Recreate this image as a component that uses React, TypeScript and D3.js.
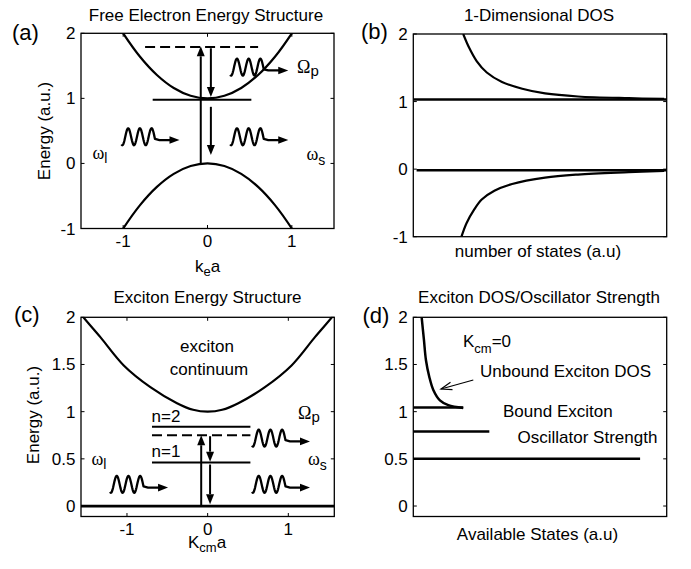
import React from 'react';
import * as d3 from 'd3';

type Pt = [number, number];

// (a) free electron bands, energy vs k_e a
const conductionBand: Pt[] = [[-1.1, 2.21], [-1, 2], [-0.8, 1.64], [-0.6, 1.36], [-0.4, 1.16], [-0.2, 1.04], [0, 1], [0.2, 1.04], [0.4, 1.16], [0.6, 1.36], [0.8, 1.64], [1, 2], [1.1, 2.21]];
const valenceBand: Pt[] = [[-1.1, -1.21], [-1, -1], [-0.8, -0.64], [-0.6, -0.36], [-0.4, -0.16], [-0.2, -0.04], [0, 0], [0.2, -0.04], [0.4, -0.16], [0.6, -0.36], [0.8, -0.64], [1, -1], [1.1, -1.21]];
const levelsA = [
  { e: 1.79, x0: -0.74, x1: 0.6, dashed: true },
  { e: 0.98, x0: -0.65, x1: 0.52, dashed: false },
];
const arrowsA = [
  { x: -0.08, from: 0, to: 1.8 },
  { x: 0.04, from: 1.77, to: 1.02 },
  { x: 0.04, from: 0.87, to: 0.13 },
];
const wavesA: Pt[] = [[-1.02, 0.41], [0.27, 0.41], [0.27, 1.48]];

// (b) 1D density of states, x = number of states
const dosUpper: Pt[] = [[0.197, 2.0], [0.22, 1.8], [0.25, 1.6], [0.29, 1.43], [0.35, 1.29], [0.43, 1.19], [0.52, 1.12], [0.65, 1.075], [0.85, 1.05], [0.99, 1.04]];
const dosLower: Pt[] = [[0.19, -1.0], [0.21, -0.8], [0.24, -0.6], [0.27, -0.45], [0.32, -0.32], [0.39, -0.22], [0.52, -0.125], [0.65, -0.08], [0.85, -0.045], [0.99, -0.025]];
const levelsB = [
  { e: 1.03, x0: 0, x1: 1 },
  { e: -0.016, x0: 0.013, x1: 1 },
];

// (c) exciton bands, energy vs K_cm a
const excitonBand: Pt[] = [[-1.62, 2.09], [-1.54, 2.0], [-1.33, 1.79], [-1.04, 1.49], [-0.71, 1.26], [-0.38, 1.09], [-0.18, 1.02], [0, 1.0], [0.18, 1.02], [0.38, 1.09], [0.71, 1.26], [1.04, 1.49], [1.33, 1.79], [1.54, 2.0], [1.62, 2.09]];
const levelsC = [
  { e: 0.84, x0: -0.69, x1: 0.53, dashed: false },
  { e: 0.75, x0: -0.69, x1: 0.53, dashed: true },
  { e: 0.46, x0: -0.69, x1: 0.53, dashed: false },
];
const arrowsC = [
  { x: -0.08, from: 0, to: 0.75 },
  { x: 0.03, from: 0.74, to: 0.47 },
  { x: 0.03, from: 0.44, to: 0.02 },
];
const wavesC: Pt[] = [[-1.21, 0.23], [0.55, 0.23], [0.55, 0.72]];

// (d) exciton DOS / oscillator strength
const unboundDos: Pt[] = [[0.033, 2.0], [0.042, 1.76], [0.05, 1.545], [0.063, 1.37], [0.079, 1.23], [0.105, 1.12], [0.138, 1.07], [0.197, 1.04]];
const boundLevels = [
  { e: 1.045, len: 0.197 },
  { e: 0.79, len: 0.3 },
  { e: 0.5, len: 0.895 },
];

const FONT = 'Liberation Sans, Arial, Helvetica, sans-serif';
const SERIF = 'Liberation Serif, Times New Roman, serif';
const FS = 17;

type Lin = d3.ScaleLinear<number, number>;

function Frame({ id, x, y, xTicks, yTicks }: { id: string; x: Lin; y: Lin; xTicks: number[]; yTicks: number[] }) {
  const [l, r] = x.range();
  const [b, t] = y.range();
  const tl = 3.5;
  return (
    <g>
      <clipPath id={id}>
        <rect x={l} y={t} width={r - l} height={b - t} />
      </clipPath>
      <rect x={l} y={t} width={r - l} height={b - t} fill="none" stroke="#000" strokeWidth={1.3} />
      {yTicks.map(v => (
        <g key={'y' + v}>
          <line x1={l} x2={l + tl} y1={y(v)} y2={y(v)} stroke="#000" />
          <line x1={r} x2={r - tl} y1={y(v)} y2={y(v)} stroke="#000" />
          <text x={l - 5.5} y={y(v) + 6} textAnchor="end" fontSize={FS}>{String(v)}</text>
        </g>
      ))}
      {xTicks.map(v => (
        <g key={'x' + v}>
          <line x1={x(v)} x2={x(v)} y1={b} y2={b - tl} stroke="#000" />
          <line x1={x(v)} x2={x(v)} y1={t} y2={t + tl} stroke="#000" />
          <text x={x(v)} y={b + 18.5} textAnchor="middle" fontSize={FS}>{String(v)}</text>
        </g>
      ))}
    </g>
  );
}

// photon squiggle: three wiggles, a straight tail and a filled head
function Wave({ x0, yc }: { x0: number; yc: number }) {
  const P = 11.7, A = 8.5;
  const pts: Pt[] = [];
  for (let t = 0; t <= 33.7; t += 0.5) pts.push([x0 + t, yc - A * Math.cos((2 * Math.PI * (t - 6.7)) / P)]);
  pts.push([x0 + 38, yc + 3.3], [x0 + 50, yc + 3.3]);
  const d = d3.line()(pts) || '';
  const ty = yc + 3.3;
  return (
    <g>
      <path d={d} fill="none" stroke="#000" strokeWidth={2.3} strokeLinejoin="round" />
      <polygon points={`${x0 + 48},${ty - 3.8} ${x0 + 58},${ty} ${x0 + 48},${ty + 3.8}`} fill="#000" />
    </g>
  );
}

function VArrow({ x, y0, y1 }: { x: number; y0: number; y1: number }) {
  const dir = y1 > y0 ? 1 : -1;
  const hl = 10, hw = 4;
  return (
    <g>
      <line x1={x} x2={x} y1={y0} y2={y1 - dir * hl} stroke="#000" strokeWidth={2} />
      <polygon points={`${x - hw},${y1 - dir * hl} ${x + hw},${y1 - dir * hl} ${x},${y1}`} fill="#000" />
    </g>
  );
}

export default function App() {
  const xa = d3.scaleLinear().domain([-1.5, 1.5]).range([81, 334]);
  const ya = d3.scaleLinear().domain([-1, 2]).range([228.5, 33.3]);
  const xb = d3.scaleLinear().domain([0, 1]).range([413.3, 666.7]);
  const yb = d3.scaleLinear().domain([-1, 2]).range([236.7, 34]);
  const xc = d3.scaleLinear().domain([-1.57, 1.57]).range([81, 334.3]);
  const yc = d3.scaleLinear().domain([-0.111, 2]).range([516.5, 317.3]);
  const xd = d3.scaleLinear().domain([0, 1]).range([413.3, 666.7]);
  const yd = yc;

  const curve = (x: Lin, y: Lin) =>
    d3.line<Pt>().x(d => x(d[0])).y(d => y(d[1])).curve(d3.curveCatmullRom);

  const stroke = { fill: 'none', stroke: '#000' };

  return (
    <svg width={691} height={569} style={{ position: 'absolute', left: 0, top: 0, background: '#fff' }}
      fontFamily={FONT} fill="#000">
      {/* (a) */}
      <text x={206} y={20.7} textAnchor="middle" fontSize={FS}>Free Electron Energy Structure</text>
      <text x={12} y={40} fontSize={22}>(a)</text>
      <Frame id="ca" x={xa} y={ya} xTicks={[-1, 0, 1]} yTicks={[-1, 0, 1, 2]} />
      <g clipPath="url(#ca)">
        <path d={curve(xa, ya)(conductionBand) || ''} {...stroke} strokeWidth={2.2} />
        <path d={curve(xa, ya)(valenceBand) || ''} {...stroke} strokeWidth={2.2} />
      </g>
      {levelsA.map((lv, i) => (
        <line key={i} x1={xa(lv.x0)} x2={xa(lv.x1)} y1={ya(lv.e)} y2={ya(lv.e)} stroke="#000" strokeWidth={2}
          strokeDasharray={lv.dashed ? '10,5' : undefined} />
      ))}
      {arrowsA.map((a, i) => <VArrow key={i} x={xa(a.x)} y0={ya(a.from)} y1={ya(a.to)} />)}
      {wavesA.map((w, i) => <Wave key={i} x0={xa(w[0])} yc={ya(w[1])} />)}
      <text x={92.5} y={158.5} fontFamily={SERIF} fontSize={18}>ω<tspan fontFamily={FONT} fontSize={14} dy={4}>l</tspan></text>
      <text x={306.5} y={159.5} fontFamily={SERIF} fontSize={18}>ω<tspan fontFamily={FONT} fontSize={14} dy={5}>s</tspan></text>
      <text x={297} y={72.5} fontFamily={SERIF} fontSize={18}>Ω<tspan fontFamily={FONT} fontSize={15} dy={3}>p</tspan></text>
      <text x={195} y={271.5} fontSize={FS}>k<tspan fontSize={13} dy={4}>e</tspan><tspan dy={-4}>a</tspan></text>
      <text transform="translate(50,131) rotate(-90)" textAnchor="middle" fontSize={FS}>Energy (a.u.)</text>

      {/* (b) */}
      <text x={539} y={20.7} textAnchor="middle" fontSize={FS}>1-Dimensional DOS</text>
      <text x={361} y={38.5} fontSize={22}>(b)</text>
      <Frame id="cb" x={xb} y={yb} xTicks={[]} yTicks={[-1, 0, 1, 2]} />
      <g clipPath="url(#cb)">
        <path d={curve(xb, yb)(dosUpper) || ''} {...stroke} strokeWidth={2.2} />
        <path d={curve(xb, yb)(dosLower) || ''} {...stroke} strokeWidth={2.2} />
      </g>
      {levelsB.map((lv, i) => (
        <line key={i} x1={xb(lv.x0)} x2={xb(lv.x1)} y1={yb(lv.e)} y2={yb(lv.e)} stroke="#000" strokeWidth={2.6} />
      ))}
      <text x={538} y={257} textAnchor="middle" fontSize={FS}>number of states (a.u)</text>

      {/* (c) */}
      <text x={207.5} y={303} textAnchor="middle" fontSize={FS}>Exciton Energy Structure</text>
      <text x={14} y={322} fontSize={22}>(c)</text>
      <Frame id="cc" x={xc} y={yc} xTicks={[-1, 0, 1]} yTicks={[0, 0.5, 1, 1.5, 2]} />
      <g clipPath="url(#cc)">
        <path d={curve(xc, yc)(excitonBand) || ''} {...stroke} strokeWidth={2.2} />
        <line x1={xc(-1.57)} x2={xc(1.57)} y1={yc(0)} y2={yc(0)} stroke="#000" strokeWidth={2.8} />
      </g>
      {levelsC.map((lv, i) => (
        <line key={i} x1={xc(lv.x0)} x2={xc(lv.x1)} y1={yc(lv.e)} y2={yc(lv.e)} stroke="#000" strokeWidth={2}
          strokeDasharray={lv.dashed ? '10,5' : undefined} />
      ))}
      {arrowsC.map((a, i) => <VArrow key={i} x={xc(a.x)} y0={yc(a.from)} y1={yc(a.to)} />)}
      {wavesC.map((w, i) => <Wave key={i} x0={xc(w[0])} yc={yc(w[1])} />)}
      <text x={207} y={351.5} textAnchor="middle" fontSize={FS}>exciton</text>
      <text x={209} y={375} textAnchor="middle" fontSize={FS}>continuum</text>
      <text x={151.5} y={421.5} fontSize={FS}>n=2</text>
      <text x={151.5} y={457} fontSize={FS}>n=1</text>
      <text x={91.5} y={464.5} fontFamily={SERIF} fontSize={18}>ω<tspan fontFamily={FONT} fontSize={14} dy={4}>l</tspan></text>
      <text x={308} y={464.5} fontFamily={SERIF} fontSize={18}>ω<tspan fontFamily={FONT} fontSize={14} dy={5}>s</tspan></text>
      <text x={298} y={419} fontFamily={SERIF} fontSize={18}>Ω<tspan fontFamily={FONT} fontSize={15} dy={3}>p</tspan></text>
      <text x={188} y={548} fontSize={FS}>K<tspan fontSize={13} dy={4}>cm</tspan><tspan dy={-4}>a</tspan></text>
      <text transform="translate(39,415) rotate(-90)" textAnchor="middle" fontSize={FS}>Energy (a.u.)</text>

      {/* (d) */}
      <text x={539} y={302.5} textAnchor="middle" fontSize={FS}>Exciton DOS/Oscillator Strength</text>
      <text x={362.5} y={323} fontSize={22}>(d)</text>
      <Frame id="cd" x={xd} y={yd} xTicks={[]} yTicks={[0, 0.5, 1, 1.5, 2]} />
      <g clipPath="url(#cd)">
        <path d={curve(xd, yd)(unboundDos) || ''} {...stroke} strokeWidth={2.5} />
      </g>
      {boundLevels.map((lv, i) => (
        <line key={i} x1={xd(0)} x2={xd(lv.len)} y1={yd(lv.e)} y2={yd(lv.e)} stroke="#000" strokeWidth={2.5} />
      ))}
      <line x1={473.3} y1={380} x2={441} y2={389} stroke="#000" strokeWidth={1.2} />
      <path d="M450.5,382.3 L441,389 L452.5,389.6" fill="none" stroke="#000" strokeWidth={1.2} />
      <text x={463} y={346.5} fontSize={FS}>K<tspan fontSize={13} dy={6}>cm</tspan><tspan dy={-6}>=0</tspan></text>
      <text x={480} y={376.5} fontSize={FS}>Unbound Exciton DOS</text>
      <text x={503} y={416.5} fontSize={FS}>Bound Exciton</text>
      <text x={517.5} y={443} fontSize={FS}>Oscillator Strength</text>
      <text x={537.5} y={539.5} textAnchor="middle" fontSize={FS}>Available States (a.u)</text>
    </svg>
  );
}
